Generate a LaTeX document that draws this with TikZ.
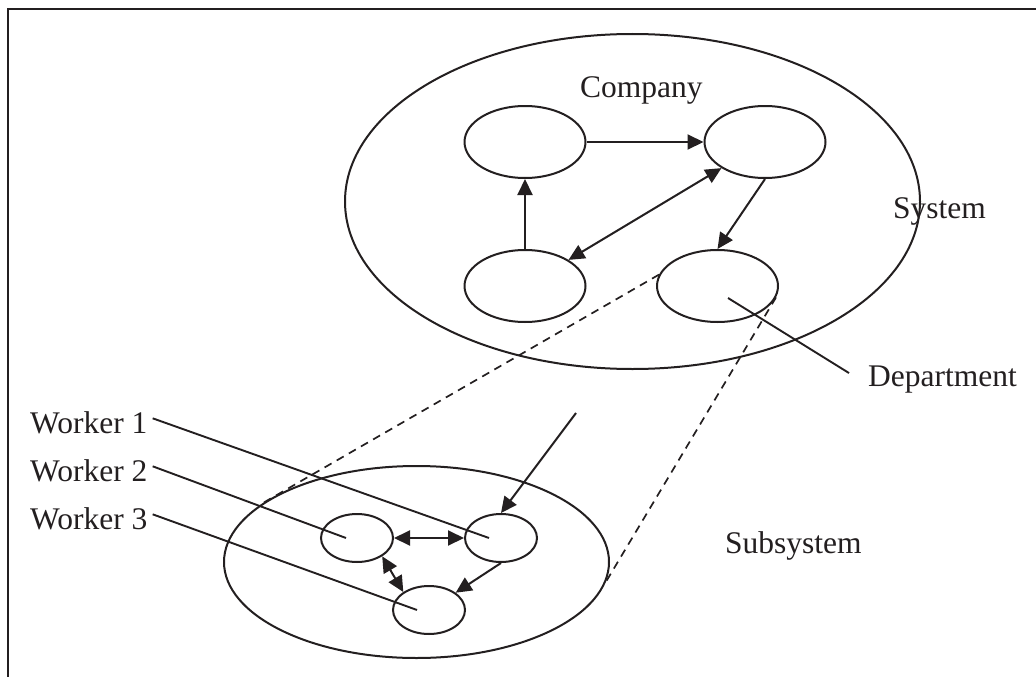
\documentclass[tikz,border=0pt]{standalone}
\usepackage{fontspec}
\setmainfont{Liberation Serif}
\usetikzlibrary{shapes.geometric,arrows.meta}
\definecolor{ink}{RGB}{35,31,32}
\begin{document}
\begin{tikzpicture}[x=1pt,y=-1pt,
  solid line/.style={line width=2pt,draw=ink},
  oval/.style={ellipse,draw=ink,line width=2pt,inner sep=0pt},
  unit/.style={oval,minimum width=121pt,minimum height=72pt},
  worker/.style={oval,minimum width=72pt,minimum height=48pt},
  label/.style={inner sep=0pt,anchor=base west,text=ink,font=\fontsize{31.5}{37}\selectfont},
  tip/.tip={Triangle[length=16pt,width=15pt]},
  flow/.style={solid line,-tip},
  both/.style={solid line,tip-tip},
  zoomline/.style={line width=1.7pt,draw=ink,dash pattern=on 8pt off 6pt},
  pointer/.style={line width=1.9pt,draw=ink}]
\useasboundingbox (0,0) rectangle (1036,677);

% open frame: top and left edges
\draw[line width=2pt,draw=ink] (1036,9.5) -- (8,9.5) -- (8,677);

% company level
\node[oval,minimum width=575pt,minimum height=335pt] (system) at (632.5,201.5) {};
\node[unit] (tl) at (525,142) {};
\node[unit] (tr) at (765,142) {};
\node[unit] (bl) at (525,286) {};
\node[unit] (br) at (717.5,286) {};

\node[label] (company) at (580,97) {Company};
\node[label] (systemlabel) at (893,218) {System};
\node[label] (dept) at (868,386) {Department};

\draw[flow] (tl.east) -- (tr.west);
\draw[flow] (bl.north) -- (tl.south);
\draw[both] (tr) -- (bl);
\draw[flow] (tr.south) -- (br.north);

% department pointer
\draw[pointer] ([shift={(10.5pt,-12pt)}]br.center) -- ([shift={(-19pt,6pt)}]dept.west);

% subsystem level
\node[oval,minimum width=385pt,minimum height=192pt] (sub) at (416.5,562) {};
\node[worker] (w2) at (357,538) {};
\node[worker] (w1) at (501,538) {};
\node[worker] (w3) at (429,610) {};

\node[label] (subsystem) at (725,553) {Subsystem};
\node[label] (lab1) at (30,433) {Worker 1};
\node[label] (lab2) at (30,481) {Worker 2};
\node[label] (lab3) at (30,529) {Worker 3};

% zoom lines from the department to its subsystem
\draw[zoomline] (br.169) -- (sub.159);
\draw[zoomline] (br.-11) -- (sub.-6);

% flows between workers
\coordinate (input) at (576,413);
\draw[flow] (input) -- (w1.north);
\draw[both] (w2.east) -- (w1.west);
\draw[both] (w2.-36) -- (w3.145);
\draw[flow] (w1.south) -- (w3.33);

% worker pointers
\draw[pointer] ([shift={(5pt,4pt)}]lab1.east) -- ([xshift=-12pt]w1.center);
\draw[pointer] ([shift={(5pt,4pt)}]lab2.east) -- ([xshift=-11pt]w2.center);
\draw[pointer] ([shift={(5pt,4pt)}]lab3.east) -- ([xshift=-12pt]w3.center);
\end{tikzpicture}
\end{document}
